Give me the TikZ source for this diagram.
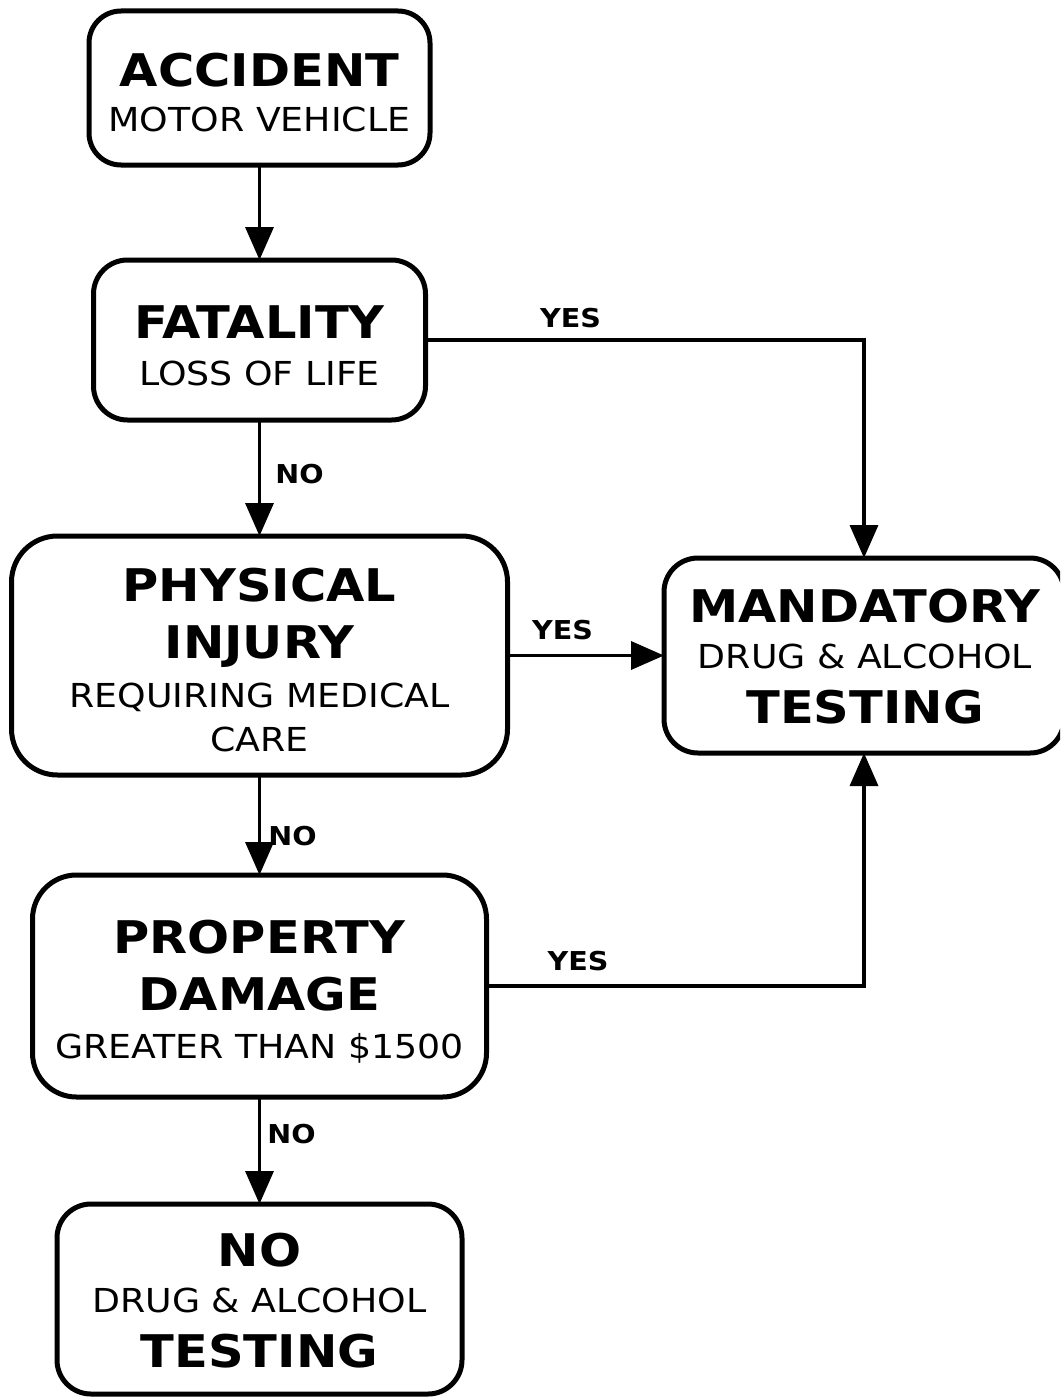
\documentclass[tikz,border=0pt]{standalone}
\usepackage{fontspec}
\newfontfamily\dvsans{DejaVu Sans}[FakeStretch=1.1]
\usetikzlibrary{arrows.meta}
\newcommand\BigBold{\dvsans\bfseries\fontsize{45}{50}\selectfont}
\newcommand\SubReg{\dvsans\fontsize{33}{38}\selectfont}
\newcommand\LabBold{\dvsans\bfseries\fontsize{26}{30}\selectfont}
\begin{document}
\begin{tikzpicture}[x=1pt,y=-1pt,
  box/.style={draw=black, line width=5pt, fill=white, inner sep=0pt, outer sep=0pt},
  conn/.style={draw=black, line width=3.5pt, -{Triangle[length=33pt,width=28pt]}},
  big/.style={anchor=base, inner sep=0pt, font=\BigBold},
  sub/.style={anchor=base, inner sep=0pt, font=\SubReg},
  lab/.style={anchor=base, inner sep=0pt, font=\LabBold}]
\useasboundingbox (0,0) rectangle (1060,1397);
\clip (0,0) rectangle (1060,1397);
% boxes
\node[box, rounded corners=32pt, minimum width=341pt, minimum height=154pt] (acc) at (259.5,88) {};
\node[box, rounded corners=34pt, minimum width=332pt, minimum height=160pt] (fat) at (259.5,340) {};
\node[box, rounded corners=46pt, minimum width=496pt, minimum height=239pt] (phys) at (259.5,655.5) {};
\node[box, rounded corners=34pt, minimum width=400pt, minimum height=195pt] (mand) at (864,655.5) {};
\node[box, rounded corners=44pt, minimum width=454pt, minimum height=222pt] (prop) at (259.5,986) {};
\node[box, rounded corners=34pt, minimum width=405pt, minimum height=190pt] (nobox) at (259.5,1299) {};
% texts
\node[big] (acct1) at (259.5,86) {ACCIDENT};
\node[sub] (acct2) at (259.5,131) {MOTOR VEHICLE};
\node[big] (fatt1) at (259.5,338) {FATALITY};
\node[sub] (fatt2) at (259.5,385) {LOSS OF LIFE};
\node[big] (phyt1) at (259.5,601) {PHYSICAL};
\node[big] (phyt2) at (259.5,658) {INJURY};
\node[sub] (phyt3) at (259.5,707) {REQUIRING MEDICAL};
\node[sub] (phyt4) at (259.5,751) {CARE};
\node[big] (mant1) at (865,622) {MANDATORY};
\node[sub] (mant2) at (865,668) {DRUG \& ALCOHOL};
\node[big] (mant3) at (865,723) {TESTING};
\node[big] (prot1) at (259.5,953) {PROPERTY};
\node[big] (prot2) at (259.5,1010) {DAMAGE};
\node[sub] (prot3) at (259.5,1058) {GREATER THAN \$1500};
\node[big] (not1) at (259.5,1266) {NO};
\node[sub] (not2) at (259.5,1312) {DRUG \& ALCOHOL};
\node[big] (not3) at (259.5,1367) {TESTING};
% connectors
\draw[conn] (acc.south) -- (fat.north);
\draw[conn] (fat.east) -| (mand.north);
\draw[conn] (fat.south) -- (phys.north);
\draw[conn] (phys.east) -- (mand.west);
\draw[conn] (phys.south) -- (prop.north);
\draw[conn] (prop.east) -| (mand.south);
\draw[conn] (prop.south) -- (nobox.north);
% labels
\node[lab] (l1) at (570.5,327) {YES};
\node[lab] (l2) at (299.5,483) {NO};
\node[lab] (l3) at (562.5,639) {YES};
\node[lab] (l4) at (292.5,845) {NO};
\node[lab] (l5) at (578,970) {YES};
\node[lab] (l6) at (291.5,1143) {NO};
\end{tikzpicture}
\end{document}
